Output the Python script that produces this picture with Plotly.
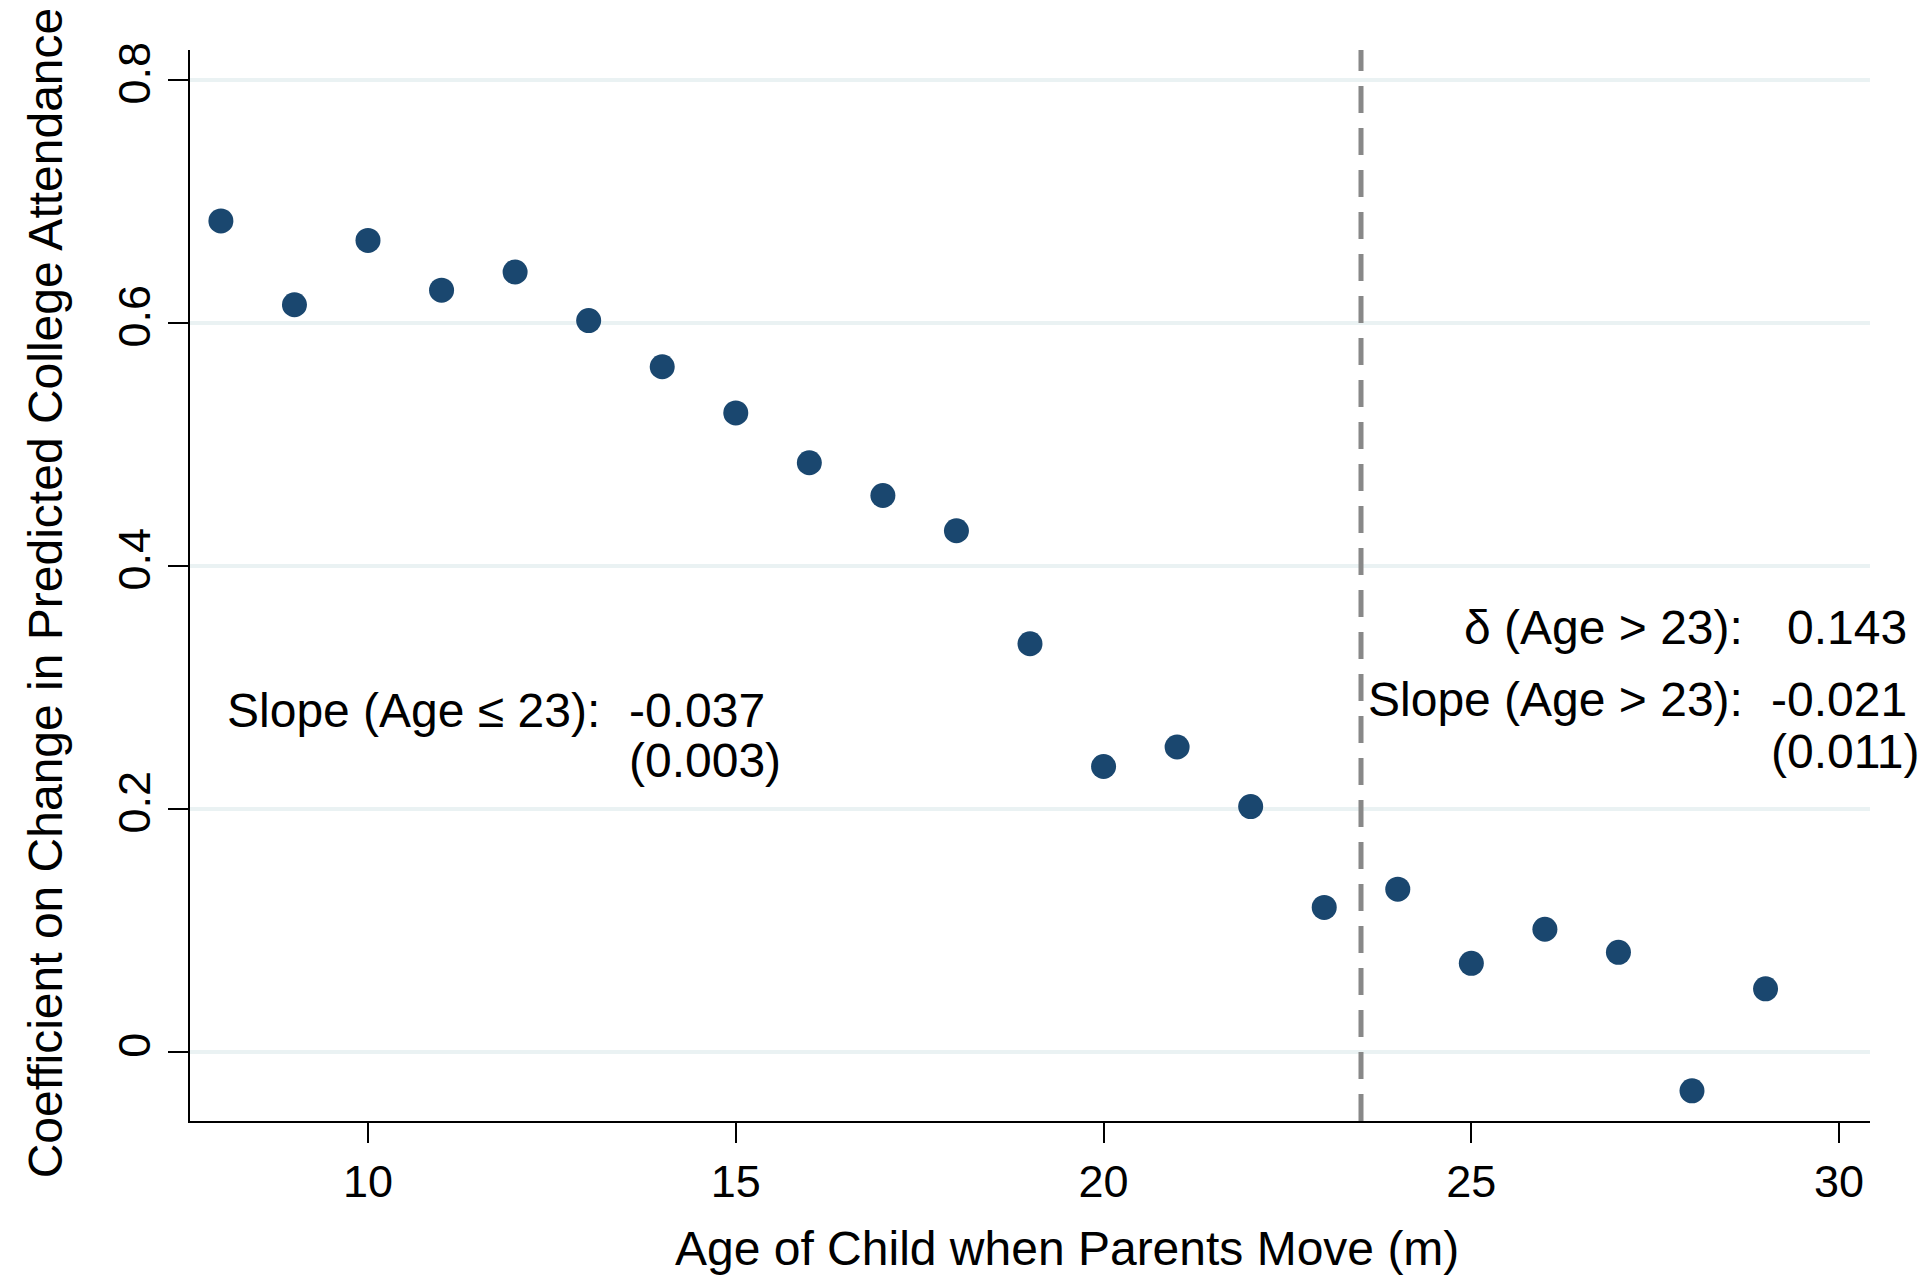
import plotly.graph_objects as go

# Age of child at the parents' move and the estimated coefficient
ages = [8, 9, 10, 11, 12, 13, 14, 15, 16, 17, 18, 19, 20, 21, 22, 23, 24, 25, 26, 27, 28, 29]
coefs = [0.684, 0.615, 0.668, 0.627, 0.642, 0.602, 0.564, 0.526, 0.485, 0.458, 0.429,
         0.336, 0.235, 0.251, 0.202, 0.119, 0.134, 0.073, 0.101, 0.082, -0.032, 0.052]

x_ticks = [10, 15, 20, 25, 30]
y_ticks = [0, 0.2, 0.4, 0.6, 0.8]
y_tick_text = ["0", "0.2", "0.4", "0.6", "0.8"]
cutoff_age = 23.5

x_title = "Age of Child when Parents Move (m)"
y_title = "Coefficient on Change in Predicted College Attendance"

FONT = "Liberation Sans, Arial, Helvetica, sans-serif"
NAVY = "rgb(26,71,111)"

fig = go.Figure()
fig.add_trace(go.Scatter(
    x=ages, y=coefs, mode="markers",
    marker=dict(size=25, color=NAVY, line=dict(width=0)),
    showlegend=False, cliponaxis=False,
))

# vertical cutoff line
fig.add_shape(type="line", xref="x", yref="paper", x0=cutoff_age, x1=cutoff_age, y0=0, y1=1,
              line=dict(color="rgb(136,136,136)", width=5, dash="27px,15px"), layer="above")

ann_font = dict(family=FONT, size=48, color="black")
annotations = [
    dict(x=8.07, y=0.281, text="Slope (Age ≤ 23):", xanchor="left"),
    dict(x=13.535, y=0.281, text="-0.037", xanchor="left"),
    dict(x=13.535, y=0.240, text="(0.003)", xanchor="left"),
    dict(x=28.706, y=0.349, text="δ (Age > 23):", xanchor="right"),
    dict(x=29.284, y=0.349, text="0.143", xanchor="left"),
    dict(x=28.706, y=0.290, text="Slope (Age > 23):", xanchor="right"),
    dict(x=29.067, y=0.290, text="-0.021", xanchor="left"),
    dict(x=29.067, y=0.247, text="(0.011)", xanchor="left"),
]
for a in annotations:
    fig.add_annotation(xref="x", yref="y", yanchor="middle", showarrow=False,
                       font=ann_font, borderpad=0, **a)

# axis titles
fig.add_annotation(xref="paper", yref="paper", x=0.522, y=-0.1195, text=x_title,
                   xanchor="center", yanchor="middle", showarrow=False, font=ann_font)
fig.add_annotation(xref="paper", yref="paper", x=-0.0855, y=0.493, text=y_title, textangle=-90,
                   xanchor="center", yanchor="middle", showarrow=False, font=ann_font)

fig.update_layout(
    width=1920, height=1275,
    margin=dict(l=190, r=50, t=50, b=154),
    paper_bgcolor="white", plot_bgcolor="white",
    font=dict(family=FONT, color="black"),
    xaxis=dict(
        range=[7.58, 30.42], tickvals=x_ticks, showgrid=False, zeroline=False,
        showline=True, linecolor="black", linewidth=2,
        ticks="outside", ticklen=20, tickwidth=2, tickcolor="black",
        tickfont=dict(size=45, family=FONT),
    ),
    yaxis=dict(
        range=[-0.0568, 0.8247], tickvals=y_ticks, ticktext=y_tick_text, tickangle=-90,
        showgrid=True, gridcolor="rgb(234,242,243)", gridwidth=4, zeroline=False,
        showline=True, linecolor="black", linewidth=2,
        ticks="outside", ticklen=20, tickwidth=2, tickcolor="black",
        tickfont=dict(size=45, family=FONT),
    ),
)

fig.write_html("out.html")
